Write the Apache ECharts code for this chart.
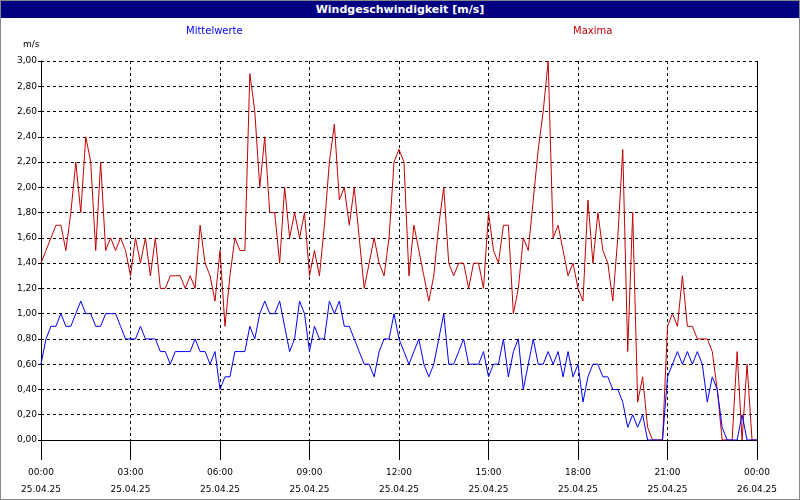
<!DOCTYPE html>
<html>
<head>
<meta charset="UTF-8">
<script src="https://cdn.jsdelivr.net/npm/echarts@6/dist/echarts.min.js"></script>
<style>
body{margin:0;}
#wrap{width:798px;height:498px;border:1px solid #888;position:relative;background:#fff;}
#head{height:17px;background:#000080;color:#fff;font:bold 11px "DejaVu Sans";text-align:center;line-height:17px;}
#chart{width:798px;height:481px;}
</style>
</head>
<body>
<div id="wrap"><div id="head">Windgeschwindigkeit [m/s]</div><div id="chart"></div></div>
<script>
// 10-Minuten-Werte, 25.04.25 00:00 bis 26.04.25 00:00
var maxima = [
 1.4,1.5,1.6,1.7,1.7,1.5, 1.8,2.2,1.8,2.4,2.2,1.5, 2.2,1.5,1.6,1.5,1.6,1.5,
 1.3,1.6,1.4,1.6,1.3,1.6, 1.2,1.2,1.3,1.3,1.3,1.2, 1.3,1.2,1.7,1.4,1.3,1.1,
 1.5,0.9,1.3,1.6,1.5,1.5, 2.9,2.6,2.0,2.4,1.8,1.8, 1.4,2.0,1.6,1.8,1.6,1.8,
 1.3,1.5,1.3,1.7,2.2,2.5, 1.9,2.0,1.7,2.0,1.6,1.2, 1.4,1.6,1.4,1.3,1.6,2.2,
 2.3,2.2,1.3,1.7,1.5,1.3, 1.1,1.3,1.7,2.0,1.4,1.3, 1.4,1.4,1.2,1.4,1.4,1.2,
 1.8,1.5,1.4,1.7,1.7,1.0, 1.2,1.6,1.5,1.9,2.3,2.6, 3.0,1.6,1.7,1.5,1.3,1.4,
 1.2,1.1,1.9,1.4,1.8,1.5, 1.4,1.1,1.6,2.3,0.7,1.8, 0.3,0.5,0.1,0.0,0.0,0.0,
 0.9,1.0,0.9,1.3,0.9,0.9, 0.8,0.8,0.8,0.7,0.4,0.0, 0.0,0.0,0.7,0.0,0.6,0.0, 0.0
];
var mittel = [
 0.6,0.8,0.9,0.9,1.0,0.9, 0.9,1.0,1.1,1.0,1.0,0.9, 0.9,1.0,1.0,1.0,0.9,0.8,
 0.8,0.8,0.9,0.8,0.8,0.8, 0.7,0.7,0.6,0.7,0.7,0.7, 0.7,0.8,0.7,0.7,0.6,0.7,
 0.4,0.5,0.5,0.7,0.7,0.7, 0.9,0.8,1.0,1.1,1.0,1.0, 1.1,0.9,0.7,0.8,1.1,1.0,
 0.7,0.9,0.8,0.8,1.1,1.0, 1.1,0.9,0.9,0.8,0.7,0.6, 0.6,0.5,0.7,0.8,0.8,1.0,
 0.8,0.7,0.6,0.7,0.8,0.6, 0.5,0.6,0.8,1.0,0.6,0.6, 0.7,0.8,0.6,0.6,0.6,0.7,
 0.5,0.6,0.6,0.8,0.5,0.7, 0.8,0.4,0.6,0.8,0.6,0.6, 0.7,0.6,0.7,0.5,0.7,0.5,
 0.6,0.3,0.5,0.6,0.6,0.5, 0.5,0.4,0.4,0.3,0.1,0.2, 0.1,0.2,0.0,0.0,0.0,0.0,
 0.5,0.6,0.7,0.6,0.7,0.6, 0.7,0.6,0.3,0.5,0.4,0.1, 0.0,0.0,0.0,0.2,0.0,0.0, 0.0
];
var zeiten = [];
for (var i = 0; i <= 144; i++) {
  var h = Math.floor(i / 6) % 24, m = (i % 6) * 10;
  var d = i < 144 ? '25.04.25' : '26.04.25';
  zeiten.push((h < 10 ? '0' : '') + h + ':' + (m < 10 ? '0' : '') + m + '\n' + d);
}
var chart = echarts.init(document.getElementById('chart'));
var dash = {type: [3, 3], color: '#000', width: 1};
chart.setOption({
  animation: false,
  textStyle: {fontFamily: 'DejaVu Sans'},
  grid: {left: 40, right: 42, top: 43, bottom: 59},
  legend: {show: false},
  graphic: [
    {type: 'text', left: 185, top: 8, style: {text: 'Mittelwerte', fill: '#0000ff', font: '10px "DejaVu Sans"'}},
    {type: 'text', left: 572, top: 8, style: {text: 'Maxima', fill: '#c00000', font: '10px "DejaVu Sans"'}},
    {type: 'text', left: 22, top: 22, style: {text: 'm/s', fill: '#000', font: '9px "DejaVu Sans"'}}
  ],
  xAxis: {
    type: 'category', boundaryGap: false, data: zeiten,
    axisLine: {lineStyle: {color: '#000'}},
    axisTick: {interval: 17, length: 20, lineStyle: {color: '#000'}},
    axisLabel: {interval: 17, color: '#000', fontSize: 9, lineHeight: 17, margin: 24},
    splitLine: {show: true, interval: 17, lineStyle: dash}
  },
  yAxis: {
    type: 'value', min: 0, max: 3, interval: 0.2,
    axisLine: {show: true, lineStyle: {color: '#000'}},
    axisTick: {show: true, length: 3, lineStyle: {color: '#000'}},
    axisLabel: {color: '#000', fontSize: 9, margin: 4, formatter: function (v) { return v.toFixed(2).replace('.', ','); }},
    splitLine: {lineStyle: dash}
  },
  series: [
    {name: 'Maxima', type: 'line', data: maxima, symbol: 'none', lineStyle: {color: '#c00000', width: 1}},
    {name: 'Mittelwerte', type: 'line', data: mittel, symbol: 'none', lineStyle: {color: '#0000ff', width: 1}},
    {type: 'line', data: [], markLine: {silent: true, symbol: 'none', label: {show: false},
      lineStyle: {color: '#000', type: 'solid', width: 1}, data: [{xAxis: 144}]}}
  ]
});
</script>
</body>
</html>
